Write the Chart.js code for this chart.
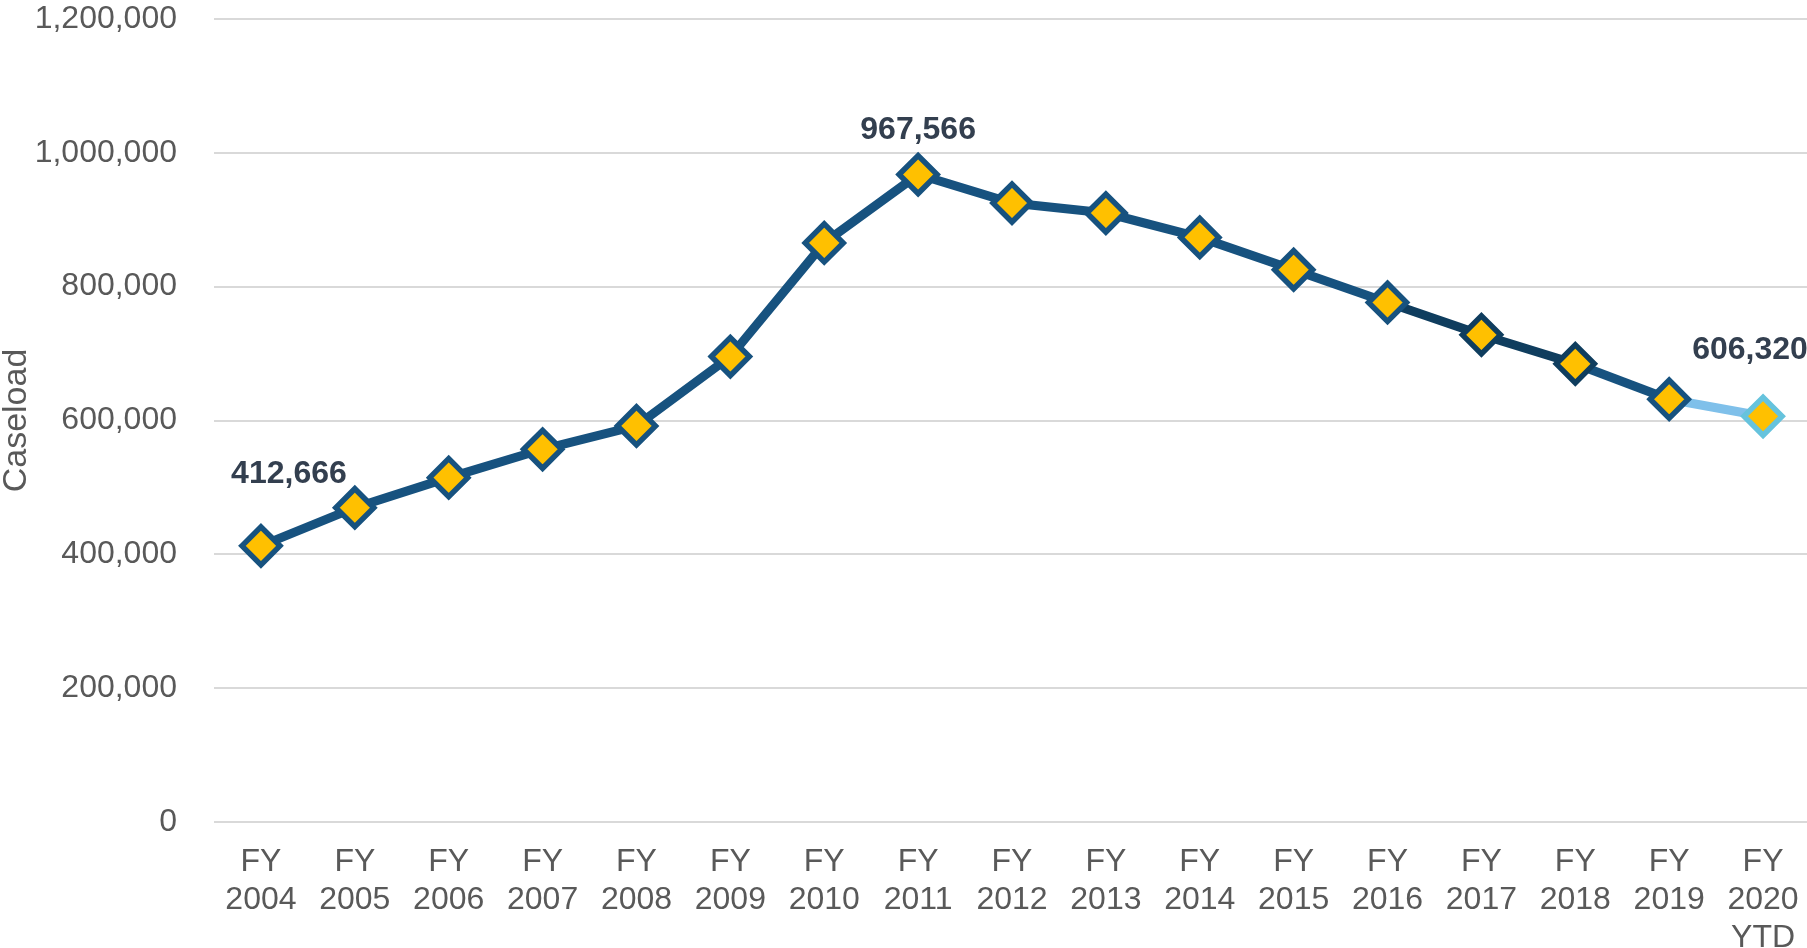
<!DOCTYPE html>
<html>
<head>
<meta charset="utf-8">
<script src="https://cdn.jsdelivr.net/npm/chart.js@4/dist/chart.umd.min.js"></script>
<style>
	html, body { margin: 0; padding: 0; background: #fff; overflow: hidden; }
	#wrap { width: 1807px; height: 948px; overflow: hidden; }
</style>
</head>
<body>
<div id="wrap"><canvas id="caseload-chart" width="1810" height="948"></canvas></div>
<script>
const yearLabels = [
	["FY", "2004"], ["FY", "2005"], ["FY", "2006"], ["FY", "2007"],
	["FY", "2008"], ["FY", "2009"], ["FY", "2010"], ["FY", "2011"],
	["FY", "2012"], ["FY", "2013"], ["FY", "2014"], ["FY", "2015"],
	["FY", "2016"], ["FY", "2017"], ["FY", "2018"], ["FY", "2019"],
	["FY", "2020", "YTD"],
];
const caseload = [
	412666, 469700, 514600, 557000, 591900, 695600, 865400, 967566,
	925000, 910000, 873600, 825300, 776400, 728000, 684700, 631800, 606320,
];
const labelledPoints = [0, 7, 16];
const yTicks = [0, 200000, 400000, 600000, 800000, 1000000, 1200000];

const LINE_BLUE = "#17527F";
const LINE_DARK = "#0F3D5E";
const LINE_LIGHT = "#7FC0EA";
const MARKER_FILL = "#FFC000";
const TICK_GREY = "#595959";
const LABEL_INK = "#333F4F";
const FONT = "'Liberation Sans', Arial, sans-serif";

// where each value label sits relative to its point
const labelShift = { 0: [28, -72], 7: [0, -44], 16: [-13, -66] };

const pointLabels = {
	id: "pointLabels",
	afterDatasetsDraw(chart) {
		const ctx = chart.ctx;
		const meta = chart.getDatasetMeta(0);
		ctx.save();
		ctx.font = "bold 32px " + FONT;
		ctx.fillStyle = LABEL_INK;
		ctx.textAlign = "center";
		ctx.textBaseline = "middle";
		labelledPoints.forEach((i) => {
			const pt = meta.data[i];
			const s = labelShift[i] || [0, -44];
			ctx.fillText(caseload[i].toLocaleString("en-US"), pt.x + s[0], pt.y + s[1]);
		});
		ctx.restore();
	},
};

function segColor(c) {
	const i = c.p0DataIndex;
	if (i === caseload.length - 2) return LINE_LIGHT;
	if (i === 12 || i === 13) return LINE_DARK;
	return LINE_BLUE;
}

const pointBorders = caseload.map((v, i) => {
	if (i === caseload.length - 1) return "#66C3DD";
	if (i === 13 || i === 14) return LINE_DARK;
	return LINE_BLUE;
});

function noEdgePadding(scale) {
	scale.paddingTop = 0;
	scale.paddingBottom = 0;
	scale.paddingLeft = 0;
	scale.paddingRight = 0;
}

new Chart(document.getElementById("caseload-chart"), {
	type: "line",
	data: {
		labels: yearLabels,
		datasets: [
			{
				data: caseload,
				borderColor: LINE_BLUE,
				borderWidth: 9,
				segment: { borderColor: segColor },
				pointStyle: "rectRot",
				pointRadius: 19,
				pointBorderWidth: 5.5,
				pointBackgroundColor: MARKER_FILL,
				pointBorderColor: pointBorders,
				tension: 0,
				fill: false,
				clip: false,
			},
		],
	},
	options: {
		responsive: false,
		animation: false,
		devicePixelRatio: 1,
		layout: { autoPadding: false, padding: { top: 19, right: 0, bottom: 0, left: 0 } },
		plugins: {
			legend: { display: false },
			tooltip: { enabled: false },
			title: { display: false },
		},
		scales: {
			x: {
				offset: true,
				grid: { display: false, drawTicks: false },
				border: { display: false },
				ticks: {
					color: TICK_GREY,
					font: { family: FONT, size: 32, lineHeight: 1.19 },
					padding: 21,
					maxRotation: 0,
					autoSkip: false,
				},
				afterFit(scale) {
					scale.height = 126;
					noEdgePadding(scale);
				},
			},
			y: {
				min: 0,
				max: 1200000,
				afterBuildTicks(scale) {
					scale.ticks = yTicks.map((v) => ({ value: v }));
				},
				grid: { color: "#D9D9D9", lineWidth: 2, drawTicks: false },
				border: { display: false },
				ticks: {
					color: TICK_GREY,
					font: { family: FONT, size: 32 },
					padding: 37,
					callback: (v) => v.toLocaleString("en-US"),
				},
				title: {
					display: true,
					text: "Caseload",
					color: TICK_GREY,
					font: { family: FONT, size: 34, lineHeight: 1 },
					padding: 0,
				},
				afterFit(scale) {
					scale.width = 214;
					noEdgePadding(scale);
				},
			},
		},
	},
	plugins: [pointLabels],
});
</script>
</body>
</html>
